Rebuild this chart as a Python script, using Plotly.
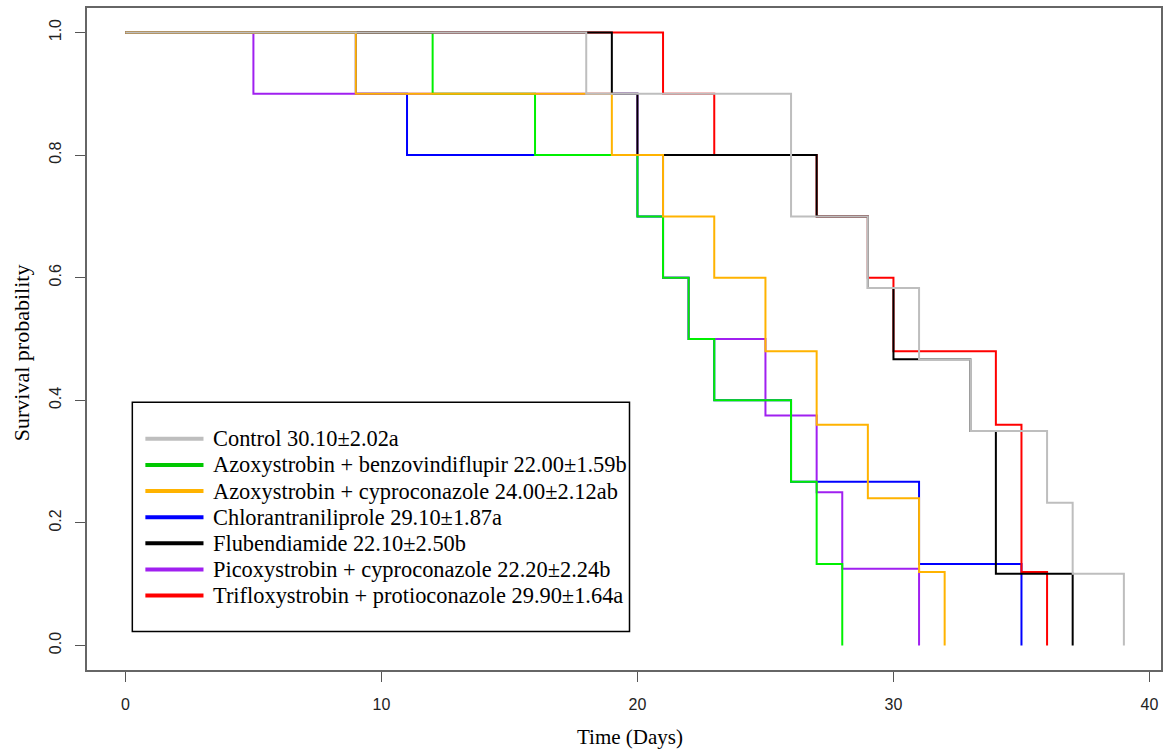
import plotly.graph_objects as go

# ---- data (Kaplan-Meier step curves) ----
labels = [
    "Control 30.10\u00b12.02a",
    "Azoxystrobin + benzovindiflupir 22.00\u00b11.59b",
    "Azoxystrobin + cyproconazole 24.00\u00b12.12ab",
    "Chlorantraniliprole 29.10\u00b11.87a",
    "Flubendiamide 22.10\u00b12.50b",
    "Picoxystrobin + cyproconazole 22.20\u00b12.24b",
    "Trifloxystrobin + protioconazole 29.90\u00b11.64a",
]
colors = ["#BEBEBE", "#00F000", "#FFB300", "#0000FF", "#000000", "#A020F0", "#FF0000"]
legend_colors = ["#BEBEBE", "#00C800", "#FFB300", "#0000FF", "#000000", "#A020F0", "#FF0000"]

control_t = [0, 18, 26, 29, 31, 33, 36, 37, 39]
control_s = [1, 0.9, 0.7, 0.583, 0.467, 0.35, 0.233, 0.117, 0]

azo_benz_t = [0, 12, 16, 20, 21, 22, 23, 26, 27, 28]
azo_benz_s = [1, 0.9, 0.8, 0.7, 0.6, 0.5, 0.4, 0.267, 0.133, 0]

azo_cypro_t = [0, 9, 19, 21, 23, 25, 27, 29, 31, 32]
azo_cypro_s = [1, 0.9, 0.8, 0.7, 0.6, 0.48, 0.36, 0.24, 0.12, 0]

chlor_t = [0, 9, 11, 20, 21, 22, 23, 26, 31, 35]
chlor_s = [1, 0.9, 0.8, 0.7, 0.6, 0.5, 0.4, 0.267, 0.133, 0]

fluben_t = [0, 19, 20, 27, 29, 30, 33, 34, 37]
fluben_s = [1, 0.9, 0.8, 0.7, 0.583, 0.467, 0.35, 0.117, 0]

picoxy_t = [0, 5, 20, 21, 22, 25, 27, 28, 31]
picoxy_s = [1, 0.9, 0.8, 0.6, 0.5, 0.375, 0.25, 0.125, 0]

triflox_t = [0, 21, 23, 27, 29, 30, 34, 35, 36]
triflox_s = [1, 0.9, 0.8, 0.7, 0.6, 0.48, 0.36, 0.12, 0]

series = [
    (control_t, control_s),
    (azo_benz_t, azo_benz_s),
    (azo_cypro_t, azo_cypro_s),
    (chlor_t, chlor_s),
    (fluben_t, fluben_s),
    (picoxy_t, picoxy_s),
    (triflox_t, triflox_s),
]

x_ticks = [0, 10, 20, 30, 40]
y_ticks = [0.0, 0.2, 0.4, 0.6, 0.8, 1.0]
x_title = "Time (Days)"
y_title = "Survival probability"

# drawing order (bottom -> top)
draw_order = [3, 5, 1, 6, 4, 2, 0]

fig = go.Figure()
for i in draw_order:
    t, s = series[i]
    fig.add_trace(go.Scatter(
        x=t, y=s, mode="lines", name=labels[i],
        line=dict(color=colors[i], width=2, shape="hv"),
        showlegend=False, hoverinfo="x+y+name",
    ))

# ---- custom legend box (data coordinates) ----
shapes = [dict(type="rect", xref="x", yref="y", x0=0.27, x1=19.69, y0=0.0228, y1=0.397,
               line=dict(color="black", width=1.5), fillcolor="white", layer="above")]
annotations = []
for k, lab in enumerate(labels):
    yy = 0.3371 - k * 0.0426
    shapes.append(dict(type="line", xref="x", yref="y", x0=0.78, x1=3.05, y0=yy, y1=yy,
                       line=dict(color=legend_colors[k], width=4), layer="above"))
    annotations.append(dict(xref="x", yref="y", x=3.35, y=yy, text=lab, showarrow=False,
                            xanchor="left", yanchor="middle",
                            font=dict(family="Liberation Serif", size=22.4, color="black")))

# axis titles as annotations (paper coordinates)
annotations.append(dict(xref="paper", yref="paper", x=0.5056, y=-0.1012, text=x_title,
                        showarrow=False, xanchor="center", yanchor="middle",
                        font=dict(family="Liberation Serif", size=21, color="black")))
annotations.append(dict(xref="paper", yref="paper", x=-0.0615, y=0.48, text=y_title,
                        showarrow=False, xanchor="center", yanchor="middle", textangle=-90,
                        font=dict(family="Liberation Serif", size=22, color="black")))

fig.update_layout(
    width=1163, height=753,
    margin=dict(l=87, r=2, t=8, b=83),
    paper_bgcolor="white", plot_bgcolor="white",
    shapes=shapes, annotations=annotations,
    showlegend=False,
)
fig.update_xaxes(
    automargin=False,
    range=[-1.5, 40.45], tickvals=x_ticks, ticktext=[str(v) for v in x_ticks],
    ticks="outside", ticklen=10, tickcolor="#555", tickwidth=1.2,
    showline=True, mirror=True, linecolor="#666", linewidth=2,
    showgrid=False, zeroline=False, ticklabelstandoff=9,
    tickfont=dict(family="Liberation Sans", size=16, color="#222"),
)
fig.update_yaxes(
    automargin=False,
    range=[-0.04, 1.04], tickvals=y_ticks, ticktext=[f"{v:.1f}" for v in y_ticks],
    tickangle=-90,
    ticks="outside", ticklen=10, tickcolor="#555", tickwidth=1.2,
    showline=True, mirror=True, linecolor="#666", linewidth=2,
    showgrid=False, zeroline=False, ticklabelstandoff=8,
    tickfont=dict(family="Liberation Sans", size=16, color="#222"),
)

fig.write_html(
    "out.html",
    config={"displayModeBar": False},
    post_script="document.body.style.margin='0';document.body.style.overflow='hidden';"
                "document.documentElement.style.overflow='hidden';",
)
